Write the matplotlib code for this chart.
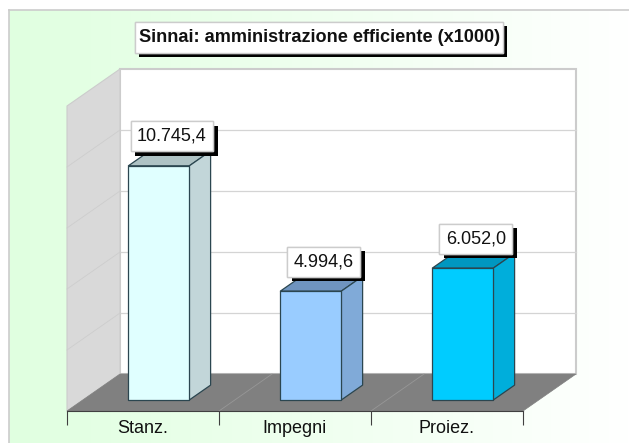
import numpy as np
import matplotlib
matplotlib.use("Agg")
import matplotlib.pyplot as plt
import matplotlib.patheffects as pe
from matplotlib.colors import LinearSegmentedColormap
from matplotlib.patches import Polygon, Rectangle

categories = ["Stanz.", "Impegni", "Proiez."]
values = [10745.4, 4994.6, 6052.0]
value_labels = ["10.745,4", "4.994,6", "6.052,0"]
grid_values = [2800, 5600, 8400, 11200]
wall_top = 14000
title = "Sinnai: amministrazione efficiente (x1000)"

front_colors = ["#E0FFFF", "#99CCFF", "#00CCFF"]
side_colors = ["#C2D6D9", "#80AAD8", "#00AEDB"]
top_colors = ["#AEC2C4", "#6F94BF", "#0097C0"]

W, H = 629, 443
DEPTH_X = 53 / 152   # category units
DEPTH_Y = 1697       # value units
BAR_W = 61 / 152
D_FRONT, D_BACK = 0.3, 0.7

plt.rcParams["font.family"] = ["Liberation Sans", "DejaVu Sans"]

fig = plt.figure(figsize=(W / 100, H / 100), dpi=100, facecolor="white")

# background gradient with its frame on top and left
bg = fig.add_axes([9 / W, 0, (W - 9) / W, (H - 10) / H], zorder=0)
cmap = LinearSegmentedColormap.from_list(
    "bg", [(0, "#E0FFE0"), (0.75, "#F7FFF7"), (1, "#FFFFFF")])
bg.imshow(np.linspace(0, 1, 256).reshape(1, -1), aspect="auto", cmap=cmap)
bg.set_xticks([]); bg.set_yticks([])
for name, sp in bg.spines.items():
    sp.set_visible(name in ("top", "left"))
    sp.set_color("#CCCCCC"); sp.set_linewidth(1.2)

ax = fig.add_axes([67 / W, (H - 411) / H, 456 / W, 342 / H], zorder=1)
ax.patch.set_visible(False)
ax.set_xlim(-0.5, 2.5)
ax.set_ylim(0, wall_top + DEPTH_Y)
for name, sp in ax.spines.items():
    sp.set_visible(name == "bottom")
ax.spines["bottom"].set_color("#404040")
ax.spines["bottom"].set_zorder(4)


def poly(pts, **kw):
    ax.add_patch(Polygon(pts, closed=True, clip_on=False, **kw))


x0, x1 = -0.5, 2.5
# walls and floor
poly([(x0 + DEPTH_X, DEPTH_Y), (x1 + DEPTH_X, DEPTH_Y),
      (x1 + DEPTH_X, DEPTH_Y + wall_top), (x0 + DEPTH_X, DEPTH_Y + wall_top)],
     facecolor="white", edgecolor="#CCCCCC", linewidth=1.5, zorder=1)
poly([(x0, 0), (x0 + DEPTH_X, DEPTH_Y), (x0 + DEPTH_X, DEPTH_Y + wall_top), (x0, wall_top)],
     facecolor="#D9D9D9", edgecolor="#CCCCCC", linewidth=0.8, zorder=1.5)
poly([(x0, 0), (x1, 0), (x1 + DEPTH_X, DEPTH_Y), (x0 + DEPTH_X, DEPTH_Y)],
     facecolor="#808080", edgecolor="#808080", linewidth=0.5, zorder=2)

for v in grid_values:
    ax.plot([x0 + DEPTH_X, x1 + DEPTH_X], [v + DEPTH_Y, v + DEPTH_Y],
            color="#D4D4D4", lw=0.9, clip_on=False, zorder=1.2)
    ax.plot([x0, x0 + DEPTH_X], [v, v + DEPTH_Y], color="#CDCDCD", lw=0.6,
            clip_on=False, zorder=1.6)
for x in [0.5, 1.5]:
    ax.plot([x, x + DEPTH_X], [0, DEPTH_Y], color="#979797", lw=0.6,
            clip_on=False, zorder=2.1)

# bars
for i, v in enumerate(values):
    l = i - BAR_W / 2 + D_FRONT * DEPTH_X
    r = l + BAR_W
    dx = (D_BACK - D_FRONT) * DEPTH_X
    dy = (D_BACK - D_FRONT) * DEPTH_Y
    y0 = D_FRONT * DEPTH_Y
    style = dict(edgecolor="#2B4650", linewidth=0.9, joinstyle="round", zorder=3)
    poly([(l, y0 + v), (r, y0 + v), (r + dx, y0 + v + dy), (l + dx, y0 + v + dy)],
         facecolor=top_colors[i], **style)
    poly([(r, y0), (r + dx, y0 + dy), (r + dx, y0 + v + dy), (r, y0 + v)],
         facecolor=side_colors[i], **style)
    poly([(l, y0), (r, y0), (r, y0 + v), (l, y0 + v)],
         facecolor=front_colors[i], **style)

shadow = [pe.withSimplePatchShadow(offset=(3.2, -3.2), shadow_rgbFace="black", alpha=1.0), pe.Normal()]

# value labels, sitting above the front top edge of each bar
for i, (v, lab) in enumerate(zip(values, value_labels)):
    y0 = D_FRONT * DEPTH_Y
    t = ax.annotate(lab, (i + D_FRONT * DEPTH_X, y0 + v), xytext=(13, 29.5),
                    textcoords="offset pixels", ha="center", va="center",
                    fontsize=13, color="#111111", zorder=6, annotation_clip=False,
                    bbox=dict(boxstyle="square,pad=0.36", facecolor="white",
                              edgecolor="#CCCCCC", linewidth=1))
    t.get_bbox_patch().set_path_effects(shadow)

# category axis
ax.set_yticks([])
ax.set_xticks([0, 1, 2], categories, fontsize=13, color="#111111")
ax.tick_params(axis="x", which="major", length=0, pad=6.5)
ax.set_xticks([-0.5, 0.5, 1.5, 2.5], minor=True)
ax.tick_params(axis="x", which="minor", length=10, width=0.8, color="#404040")

# title box
box = Rectangle((135 / W, (H - 53) / H), 368 / W, 31 / H, transform=fig.transFigure,
                facecolor="white", edgecolor="#CCCCCC", linewidth=1, zorder=5)
box.set_path_effects(shadow)
fig.add_artist(box)
fig.text(319.5 / W, (H - 37.5) / H, title, ha="center", va="center",
         fontsize=13.1, fontweight="bold", color="#111111", zorder=6)

fig.savefig("out.png", dpi=100)
